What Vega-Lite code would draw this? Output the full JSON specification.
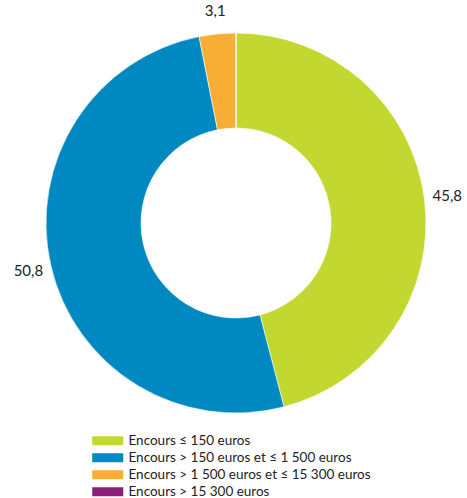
{
  "$schema": "https://vega.github.io/schema/vega-lite/v6.json",
  "width": 472,
  "height": 446,
  "padding": {"top": 0, "left": 0, "right": 0, "bottom": 52},
  "autosize": "none",
  "background": "white",
  "config": {"view": {"stroke": null}, "font": "Lato"},
  "data": {
    "values": [
      {"cat": "Encours ≤ 150 euros", "idx": 1, "value": 45.8, "label": "45,8"},
      {"cat": "Encours > 150 euros et ≤ 1 500 euros", "idx": 2, "value": 50.8, "label": "50,8"},
      {"cat": "Encours > 1 500 euros et ≤ 15 300 euros", "idx": 3, "value": 3.1, "label": "3,1"},
      {"cat": "Encours > 15 300 euros", "idx": 4, "value": 0, "label": ""}
    ]
  },
  "encoding": {
    "theta": {"field": "value", "type": "quantitative", "stack": true},
    "order": {"field": "idx", "type": "quantitative"}
  },
  "layer": [
    {
      "mark": {"type": "arc", "outerRadius": 190, "innerRadius": 95, "stroke": "white", "strokeWidth": 0.6},
      "encoding": {
        "color": {
          "field": "cat",
          "type": "nominal",
          "sort": ["Encours ≤ 150 euros", "Encours > 150 euros et ≤ 1 500 euros", "Encours > 1 500 euros et ≤ 15 300 euros", "Encours > 15 300 euros"],
          "scale": {
            "domain": ["Encours ≤ 150 euros", "Encours > 150 euros et ≤ 1 500 euros", "Encours > 1 500 euros et ≤ 15 300 euros", "Encours > 15 300 euros"],
            "range": ["#c2d72f", "#0089c1", "#f8ad35", "#8b1e79"]
          },
          "legend": {
            "title": null,
            "orient": "none",
            "legendX": 101,
            "legendY": 434,
            "symbolType": "M-3,-0.87H3V0.87H-3Z",
            "symbolSize": 107,
            "symbolStrokeWidth": 0,
            "symbolOpacity": 1,
            "labelFontSize": 13.5,
            "labelColor": "#222222",
            "labelFont": "Lato",
            "labelOffset": 14,
            "rowPadding": 2,
            "labelLimit": 400
          }
        }
      }
    },
    {
      "mark": {"type": "text", "radius": 213, "fontSize": 15, "color": "#222222", "font": "Lato"},
      "encoding": {"text": {"field": "label", "type": "nominal"}}
    }
  ]
}
